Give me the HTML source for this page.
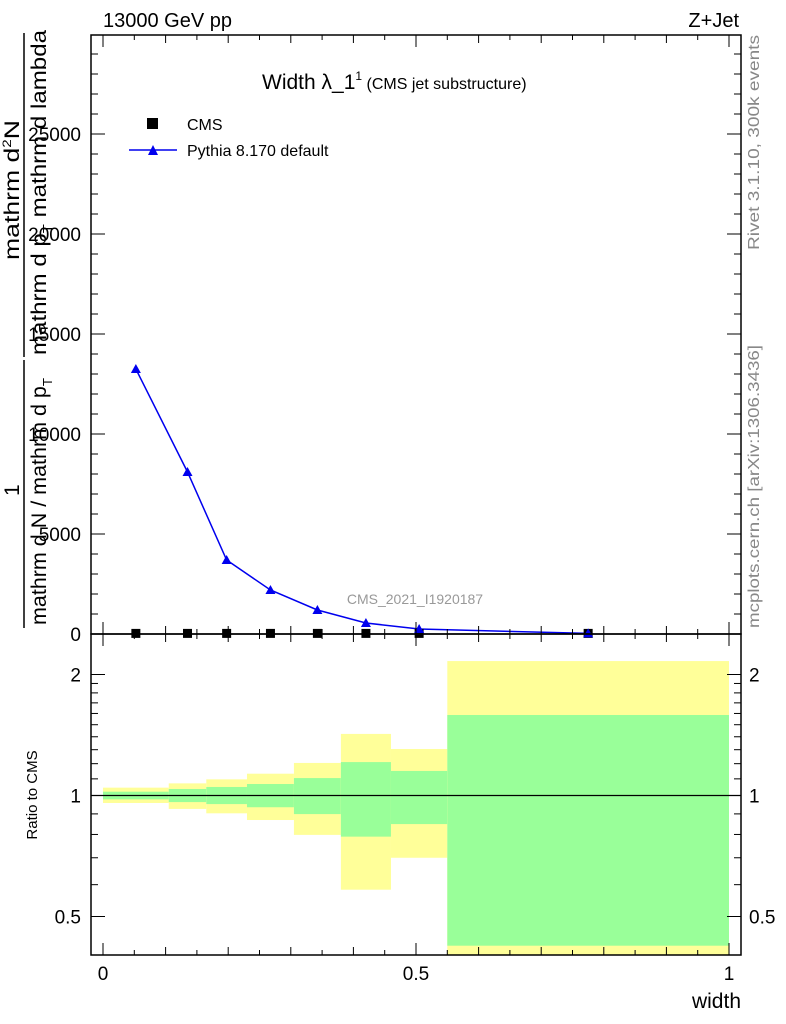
<!DOCTYPE html>
<html><head><meta charset="utf-8"><style>
body{margin:0;background:#fff;}
svg{display:block;font-family:"Liberation Sans",sans-serif;}
</style></head><body>
<svg id="chart" width="786" height="1024" viewBox="0 0 786 1024" xmlns="http://www.w3.org/2000/svg">
<g id="ratio-bands"></g>
<g id="main-marks"></g>
<g id="axes"></g>
<text x="103" y="27" font-size="20">13000 GeV pp</text>
<text x="739" y="27" font-size="20" text-anchor="end">Z+Jet</text>
<text x="262" y="89" font-size="21">Width λ_1<tspan font-size="12" dy="-9">1</tspan><tspan font-size="16" dy="9"> (CMS jet substructure)</tspan></text>
<g>
<rect x="147" y="118" width="11" height="11" fill="#000"/>
<text x="187" y="130" font-size="16">CMS</text>
<line x1="129" y1="150" x2="177" y2="150" stroke="#0000ee" stroke-width="1.5"/>
<polygon points="148,155 158,155 153,145" fill="#0000ee"/>
<text x="187" y="156" font-size="16">Pythia 8.170 default</text>
</g>
<text x="415" y="604" font-size="14" fill="#999" text-anchor="middle">CMS_2021_I1920187</text>
<text transform="translate(759,250) rotate(-90)" font-size="16" fill="#888" textLength="215" lengthAdjust="spacingAndGlyphs">Rivet 3.1.10,  300k events</text>
<text transform="translate(759,628) rotate(-90)" font-size="16" fill="#888" textLength="283" lengthAdjust="spacingAndGlyphs">mcplots.cern.ch [arXiv:1306.3436]</text>
<g font-size="21">
<text transform="translate(19,260) rotate(-90)" textLength="140" lengthAdjust="spacingAndGlyphs">mathrm d<tspan font-size="12" dy="-8">2</tspan><tspan dy="8">N</tspan></text>
<line x1="24" y1="33" x2="24" y2="357" stroke="#000" stroke-width="1.5"/>
<text transform="translate(46,355) rotate(-90)" textLength="325" lengthAdjust="spacingAndGlyphs">mathrm d p<tspan font-size="13" dy="6">T</tspan><tspan dy="-6"> mathrm d lambda</tspan></text>
<text transform="translate(19,496) rotate(-90)">1</text>
<line x1="24" y1="360" x2="24" y2="628" stroke="#000" stroke-width="1.5"/>
<text transform="translate(46,625) rotate(-90)" textLength="247" lengthAdjust="spacingAndGlyphs">mathrm d N / mathrm d p<tspan font-size="13" dy="6">T</tspan></text>
</g>
<text transform="translate(37,795) rotate(-90)" font-size="15" text-anchor="middle">Ratio to CMS</text>
<text x="741" y="1008" font-size="21" text-anchor="end">width</text>
</svg>
<script>
const binEdges=[0,0.105,0.165,0.23,0.305,0.38,0.46,0.55,1];
const binCenters=[0.0525,0.135,0.1975,0.2675,0.3425,0.42,0.505,0.775];
const cmsValues=[30,30,30,30,30,30,30,30];
const pythiaValues=[13250,8100,3700,2200,1200,550,250,30];
const yellowHi=[1.046,1.072,1.097,1.133,1.205,1.423,1.305,2.16];
const yellowLo=[0.958,0.926,0.903,0.869,0.798,0.583,0.70,0.36];
const greenHi=[1.022,1.038,1.05,1.068,1.105,1.211,1.151,1.586];
const greenLo=[0.978,0.963,0.952,0.935,0.899,0.79,0.849,0.423];
const mainYTicks=[0,5000,10000,15000,20000,25000];
const ratioYTicks=[0.5,1,2];
const xTicks=[0,0.5,1];

const NS="http://www.w3.org/2000/svg";
const L=91,R=741,T=35,MB=634,RB=955;
const X=v=>103+626*v;
const Ym=v=>634-v*0.02;
const Yr=r=>795.5-121*Math.log2(r);
function mk(tag,attrs,parent){const e=document.createElementNS(NS,tag);for(const k in attrs)e.setAttribute(k,attrs[k]);parent.appendChild(e);return e;}
const bands=document.getElementById('ratio-bands');
const marks=document.getElementById('main-marks');
const axes=document.getElementById('axes');
const clip=(y)=>Math.max(MB,Math.min(RB,y));
for(let i=0;i<binCenters.length;i++){
  const x0=X(binEdges[i]),x1=X(binEdges[i+1]);
  let y0=clip(Yr(yellowHi[i])),y1=clip(Yr(yellowLo[i]));
  const yb=mk('rect',{x:x0,y:y0,width:x1-x0,height:y1-y0,fill:'#ffff99'},bands);
  
  
  y0=clip(Yr(greenHi[i]));y1=clip(Yr(greenLo[i]));
  const gb=mk('rect',{x:x0,y:y0,width:x1-x0,height:y1-y0,fill:'#99ff99'},bands);
  
  
}
const one=mk('line',{x1:L,x2:R,y1:Yr(1),y2:Yr(1),stroke:'#000','stroke-width':1.2},bands);


const pts=binCenters.map((c,i)=>X(c)+','+Ym(pythiaValues[i])).join(' ');
const pl=mk('polyline',{points:pts,fill:'none',stroke:'#0000ee','stroke-width':1.5},marks);


binCenters.forEach((c,i)=>{
  const sq=mk('rect',{x:X(c)-4.5,y:Ym(cmsValues[i])-4.5,width:9,height:9,fill:'#000'},marks);
  
  
  const x=X(c),y=Ym(pythiaValues[i]);
  const tr=mk('polygon',{points:`${x-5},${y+4} ${x+5},${y+4} ${x},${y-5}`,fill:'#0000ee'},marks);
  
  
});
mk('rect',{x:L,y:T,width:R-L,height:MB-T,fill:'none',stroke:'#000','stroke-width':1.5},axes);
mk('rect',{x:L,y:MB,width:R-L,height:RB-MB,fill:'none',stroke:'#000','stroke-width':1.5},axes);
for(let k=0;k<=20;k++){
  const v=k*0.05,x=X(v),len=(k%10===0)?12:(k%2===0?8:5);
  [[T,1],[MB,-1],[MB,1],[RB,-1]].forEach(([y,d])=>mk('line',{x1:x,x2:x,y1:y,y2:y+d*len,stroke:'#000','stroke-width':1},axes));
}
xTicks.forEach(v=>{const t=mk('text',{x:X(v),y:980,'font-size':19,'text-anchor':'middle'},axes);t.textContent=String(v);
  
  });
for(let v=0;v<=29000;v+=1000){
  const y=Ym(v),len=(v%5000===0)?14:7;
  mk('line',{x1:L,x2:L+len,y1:y,y2:y,stroke:'#000'},axes);
  mk('line',{x1:R,x2:R-len,y1:y,y2:y,stroke:'#000'},axes);
}
mainYTicks.forEach(v=>{const t=mk('text',{x:81,y:Ym(v)+7,'font-size':19,'text-anchor':'end'},axes);t.textContent=String(v);
  
  });
const minor=[0.4,0.5,0.6,0.7,0.8,0.9,1,1.1,1.2,1.3,1.4,1.5,1.6,1.7,1.8,1.9,2];
minor.forEach(r=>{const y=Yr(r);if(y<MB||y>RB)return;const len=ratioYTicks.includes(r)?14:7;
  mk('line',{x1:L,x2:L+len,y1:y,y2:y,stroke:'#000'},axes);
  mk('line',{x1:R,x2:R-len,y1:y,y2:y,stroke:'#000'},axes);});
ratioYTicks.forEach(r=>{
  const t=mk('text',{x:81,y:Yr(r)+7,'font-size':19,'text-anchor':'end'},axes);t.textContent=String(r);
  
  
  const t2=mk('text',{x:749,y:Yr(r)+7,'font-size':19},axes);t2.textContent=String(r);
  
  
});
</script>
</body></html>
